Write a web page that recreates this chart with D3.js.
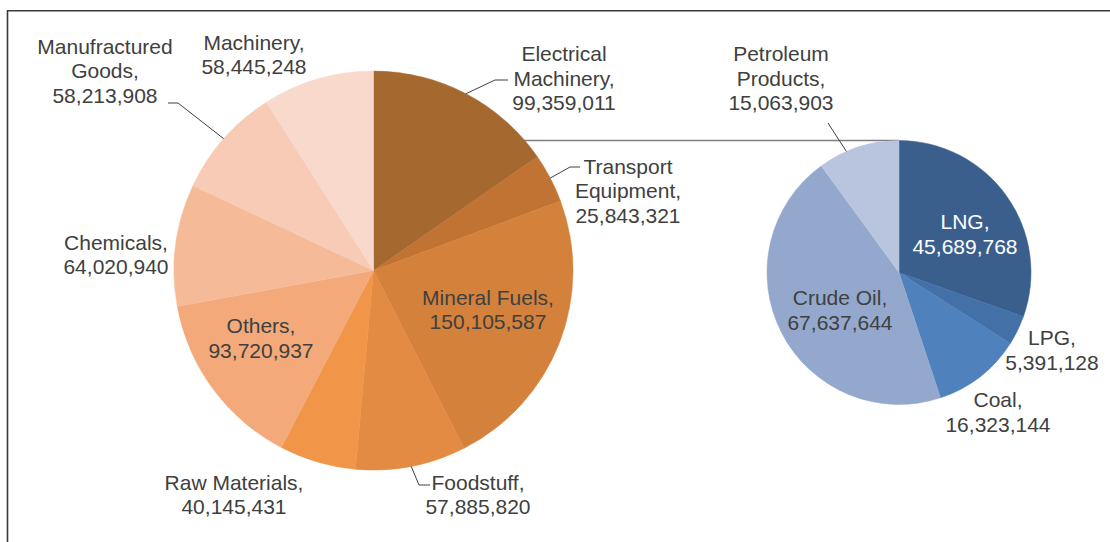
<!DOCTYPE html>
<html>
<head>
<meta charset="utf-8">
<script src="https://cdn.jsdelivr.net/npm/d3@7"></script>
<style>
  body { margin: 0; background: #fff; }
  text { font-family: "Liberation Sans", Arial, sans-serif; font-size: 21px; fill: #404040; }
</style>
</head>
<body>
<div id="chart-area"></div>
<script>
// exports by category (first pie), Mineral Fuels broken down in the second pie
const mainCategories = ["Electrical Machinery", "Transport Equipment", "Mineral Fuels", "Foodstuff",
    "Raw Materials", "Others", "Chemicals", "Manufractured Goods", "Machinery"];
const mainValues = [99359011, 25843321, 150105587, 57885820, 40145431, 93720937, 64020940, 58213908, 58445248];
const fuelCategories = ["LNG", "LPG", "Coal", "Crude Oil", "Petroleum Products"];
const fuelValues = [45689768, 5391128, 16323144, 67637644, 15063903];

const mainColors = ["#a5682f", "#c07333", "#d4813b", "#e38b43", "#f19548", "#f3a97a", "#f5bb98", "#f7cbb5", "#f9d9cc"];
const fuelColors = ["#3a5f8d", "#4470a8", "#4f81bd", "#94a8ce", "#b9c5de"];

// label placement (x centre, first baseline), leader elbows
const mainLabels = {
    "Electrical Machinery": { x: 564, y: 61, split: true, leader: [[495, 80], [508, 80]] },
    "Transport Equipment": { x: 628, y: 173.5, split: true, leader: [[570, 167], [580, 167]] },
    "Mineral Fuels": { x: 488, y: 304.5 },
    "Foodstuff": { x: 478, y: 489.5, leader: [[419, 485], [430, 485]] },
    "Raw Materials": { x: 234, y: 489.5 },
    "Others": { x: 261, y: 333 },
    "Chemicals": { x: 116, y: 249.5 },
    "Manufractured Goods": { x: 105, y: 53.5, split: true, leader: [[178, 103], [168, 103]] },
    "Machinery": { x: 254, y: 49.5 }
};
const fuelLabels = {
    "LNG": { x: 965, y: 229, color: "#fff" },
    "LPG": { x: 1052, y: 345 },
    "Coal": { x: 998, y: 407 },
    "Crude Oil": { x: 840, y: 305 },
    "Petroleum Products": { x: 781, y: 61, split: true, leader: [[828, 123]], at: 0.35 }
};

const width = 1110, height = 542;
const lineGap = 24.5;
const fmt = d3.format(",");

const svg = d3.select("#chart-area")
    .append("svg")
    .attr("width", width)
    .attr("height", height);

// frame
svg.append("path")
    .attr("d", "M7.5," + height + "V10.8H" + width)
    .attr("fill", "none")
    .attr("stroke", "#3a3a3a")
    .attr("stroke-width", 1.6);

const bigPie = { cx: 373.5, cy: 270.5, r: 199.5 };
const smallPie = { cx: 899, cy: 272.5, r: 132 };

// connector from first pie to top of second pie (drawn behind)
svg.append("line")
    .attr("x1", bigPie.cx)
    .attr("x2", smallPie.cx)
    .attr("y1", smallPie.cy - smallPie.r)
    .attr("y2", smallPie.cy - smallPie.r)
    .attr("stroke", "#7f7f7f")
    .attr("stroke-width", 1.5);

let drawPie = (cats, vals, colors, labels, p) => {
    const data = cats.map((c, i) => ({ name: c, value: vals[i], color: colors[i] }));
    const arcs = d3.pie().sort(null).value(d => d.value)(data);
    const arc = d3.arc().innerRadius(0).outerRadius(p.r);
    const g = svg.append("g")
        .attr("transform", "translate(" + p.cx + ", " + p.cy + ")");
    g.selectAll("path")
        .data(arcs)
        .enter()
        .append("path")
        .attr("d", arc)
        .attr("fill", d => d.data.color)
        .attr("stroke", d => d.data.color)
        .attr("stroke-width", 0.5);

    arcs.forEach(a => {
        const lab = labels[a.data.name];
        if (lab.leader) {
            const t = a.startAngle + (a.endAngle - a.startAngle) * (lab.at || 0.5);
            const pts = [[p.cx + p.r * Math.sin(t), p.cy - p.r * Math.cos(t)]].concat(lab.leader);
            svg.append("path")
                .attr("d", d3.line()(pts))
                .attr("fill", "none")
                .attr("stroke", "#404040")
                .attr("stroke-width", 1);
        }
        const lines = lab.split ? a.data.name.split(" ") : [a.data.name];
        lines[lines.length - 1] += ",";
        lines.push(fmt(a.data.value));
        const txt = svg.append("text")
            .attr("text-anchor", "middle")
            .style("fill", lab.color || null);
        lines.forEach((l, i) => {
            txt.append("tspan")
                .attr("x", lab.x)
                .attr("y", lab.y + i * lineGap)
                .text(l);
        });
    });
};

drawPie(mainCategories, mainValues, mainColors, mainLabels, bigPie);
drawPie(fuelCategories, fuelValues, fuelColors, fuelLabels, smallPie);
</script>
</body>
</html>
